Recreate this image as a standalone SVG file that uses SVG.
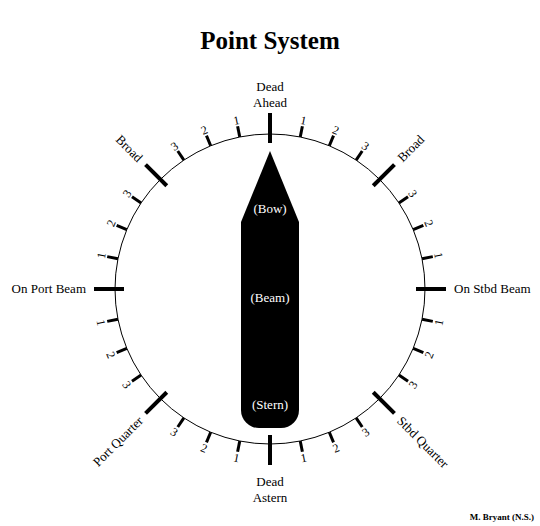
<svg xmlns="http://www.w3.org/2000/svg" width="540" height="526" viewBox="0 0 540 526">
<style>
  text { font-family: "Liberation Serif", "Times New Roman", serif; fill: #000; }
  .title { font-size: 25px; font-weight: bold; text-anchor: middle; }
  .lbl { font-size: 13px; }
  .num { font-size: 12px; text-anchor: middle; }
  .ship-lbl { font-size: 13px; fill: #fff; text-anchor: middle; }
  .credit { font-size: 9px; font-weight: bold; text-anchor: end; }
  .minor { stroke: #000; stroke-width: 3; }
  .major { stroke: #000; stroke-width: 4; }
</style>
<rect width="540" height="526" fill="#fff"/>
<g id="title"><text class="title" x="270" y="49">Point System</text></g>

<g id="compass">
  <circle cx="270" cy="289" r="155" fill="none" stroke="#000" stroke-width="1"/>
</g>

<g id="ship">
  <path d="M270,151 L299,222 L299,410 A18,18 0 0 1 281,428 L259,428 A18,18 0 0 1 241,410 L241,222 Z" fill="#000"/>
  <text class="ship-lbl" x="270" y="213">(Bow)</text>
  <text class="ship-lbl" x="270" y="302">(Beam)</text>
  <text class="ship-lbl" x="270" y="409">(Stern)</text>
</g>

<g id="connectors">
  <g id="major-ticks">
    <line class="major" x1="270" y1="143" x2="270" y2="113" transform="rotate(0 270 289)"/>
    <line class="major" x1="270" y1="143" x2="270" y2="113" transform="rotate(45 270 289)"/>
    <line class="major" x1="270" y1="143" x2="270" y2="113" transform="rotate(90 270 289)"/>
    <line class="major" x1="270" y1="143" x2="270" y2="113" transform="rotate(135 270 289)"/>
    <line class="major" x1="270" y1="143" x2="270" y2="113" transform="rotate(180 270 289)"/>
    <line class="major" x1="270" y1="143" x2="270" y2="113" transform="rotate(225 270 289)"/>
    <line class="major" x1="270" y1="143" x2="270" y2="113" transform="rotate(270 270 289)"/>
    <line class="major" x1="270" y1="143" x2="270" y2="113" transform="rotate(315 270 289)"/>
  </g>
  <g id="minor-ticks">
    <line class="minor" x1="270" y1="134" x2="270" y2="123" transform="rotate(11.25 270 289)"/>
    <line class="minor" x1="270" y1="134" x2="270" y2="123" transform="rotate(22.5 270 289)"/>
    <line class="minor" x1="270" y1="134" x2="270" y2="123" transform="rotate(33.75 270 289)"/>
    <line class="minor" x1="270" y1="134" x2="270" y2="123" transform="rotate(56.25 270 289)"/>
    <line class="minor" x1="270" y1="134" x2="270" y2="123" transform="rotate(67.5 270 289)"/>
    <line class="minor" x1="270" y1="134" x2="270" y2="123" transform="rotate(78.75 270 289)"/>
    <line class="minor" x1="270" y1="134" x2="270" y2="123" transform="rotate(101.25 270 289)"/>
    <line class="minor" x1="270" y1="134" x2="270" y2="123" transform="rotate(112.5 270 289)"/>
    <line class="minor" x1="270" y1="134" x2="270" y2="123" transform="rotate(123.75 270 289)"/>
    <line class="minor" x1="270" y1="134" x2="270" y2="123" transform="rotate(146.25 270 289)"/>
    <line class="minor" x1="270" y1="134" x2="270" y2="123" transform="rotate(157.5 270 289)"/>
    <line class="minor" x1="270" y1="134" x2="270" y2="123" transform="rotate(168.75 270 289)"/>
    <line class="minor" x1="270" y1="134" x2="270" y2="123" transform="rotate(191.25 270 289)"/>
    <line class="minor" x1="270" y1="134" x2="270" y2="123" transform="rotate(202.5 270 289)"/>
    <line class="minor" x1="270" y1="134" x2="270" y2="123" transform="rotate(213.75 270 289)"/>
    <line class="minor" x1="270" y1="134" x2="270" y2="123" transform="rotate(236.25 270 289)"/>
    <line class="minor" x1="270" y1="134" x2="270" y2="123" transform="rotate(247.5 270 289)"/>
    <line class="minor" x1="270" y1="134" x2="270" y2="123" transform="rotate(258.75 270 289)"/>
    <line class="minor" x1="270" y1="134" x2="270" y2="123" transform="rotate(281.25 270 289)"/>
    <line class="minor" x1="270" y1="134" x2="270" y2="123" transform="rotate(292.5 270 289)"/>
    <line class="minor" x1="270" y1="134" x2="270" y2="123" transform="rotate(303.75 270 289)"/>
    <line class="minor" x1="270" y1="134" x2="270" y2="123" transform="rotate(326.25 270 289)"/>
    <line class="minor" x1="270" y1="134" x2="270" y2="123" transform="rotate(337.5 270 289)"/>
    <line class="minor" x1="270" y1="134" x2="270" y2="123" transform="rotate(348.75 270 289)"/>
  </g>
</g>

<g id="point-numbers">
  <text class="num" x="270" y="117" dy="0.35em" transform="rotate(11.25 270 289)">1</text>
  <text class="num" x="270" y="117" dy="0.35em" transform="rotate(22.5 270 289)">2</text>
  <text class="num" x="270" y="117" dy="0.35em" transform="rotate(33.75 270 289)">3</text>
  <text class="num" x="270" y="117" dy="0.35em" transform="rotate(56.25 270 289)">3</text>
  <text class="num" x="270" y="117" dy="0.35em" transform="rotate(67.5 270 289)">2</text>
  <text class="num" x="270" y="117" dy="0.35em" transform="rotate(78.75 270 289)">1</text>
  <text class="num" x="270" y="117" dy="0.35em" transform="rotate(101.25 270 289) rotate(180 270 117)">1</text>
  <text class="num" x="270" y="117" dy="0.35em" transform="rotate(112.5 270 289) rotate(180 270 117)">2</text>
  <text class="num" x="270" y="117" dy="0.35em" transform="rotate(123.75 270 289) rotate(180 270 117)">3</text>
  <text class="num" x="270" y="117" dy="0.35em" transform="rotate(146.25 270 289) rotate(180 270 117)">3</text>
  <text class="num" x="270" y="117" dy="0.35em" transform="rotate(157.5 270 289) rotate(180 270 117)">2</text>
  <text class="num" x="270" y="117" dy="0.35em" transform="rotate(168.75 270 289) rotate(180 270 117)">1</text>
  <text class="num" x="270" y="117" dy="0.35em" transform="rotate(191.25 270 289) rotate(180 270 117)">1</text>
  <text class="num" x="270" y="117" dy="0.35em" transform="rotate(202.5 270 289) rotate(180 270 117)">2</text>
  <text class="num" x="270" y="117" dy="0.35em" transform="rotate(213.75 270 289) rotate(180 270 117)">3</text>
  <text class="num" x="270" y="117" dy="0.35em" transform="rotate(236.25 270 289) rotate(180 270 117)">3</text>
  <text class="num" x="270" y="117" dy="0.35em" transform="rotate(247.5 270 289) rotate(180 270 117)">2</text>
  <text class="num" x="270" y="117" dy="0.35em" transform="rotate(258.75 270 289) rotate(180 270 117)">1</text>
  <text class="num" x="270" y="117" dy="0.35em" transform="rotate(281.25 270 289)">1</text>
  <text class="num" x="270" y="117" dy="0.35em" transform="rotate(292.5 270 289)">2</text>
  <text class="num" x="270" y="117" dy="0.35em" transform="rotate(303.75 270 289)">3</text>
  <text class="num" x="270" y="117" dy="0.35em" transform="rotate(326.25 270 289)">3</text>
  <text class="num" x="270" y="117" dy="0.35em" transform="rotate(337.5 270 289)">2</text>
  <text class="num" x="270" y="117" dy="0.35em" transform="rotate(348.75 270 289)">1</text>
</g>

<g id="dead-ahead"><text class="lbl" text-anchor="middle" x="270" y="91">Dead</text><text class="lbl" text-anchor="middle" x="270" y="107">Ahead</text></g>
<g id="broad-stbd"><text class="lbl" text-anchor="start" dy="0.35em" transform="translate(399.4 159.6) rotate(-45)">Broad</text></g>
<g id="on-stbd-beam"><text class="lbl" text-anchor="start" x="454" y="293">On Stbd Beam</text></g>
<g id="stbd-quarter"><text class="lbl" text-anchor="start" dy="0.35em" transform="translate(399.4 418.4) rotate(45)">Stbd Quarter</text></g>
<g id="dead-astern"><text class="lbl" text-anchor="middle" x="270" y="486">Dead</text><text class="lbl" text-anchor="middle" x="270" y="502">Astern</text></g>
<g id="port-quarter"><text class="lbl" text-anchor="end" dy="0.35em" transform="translate(140.6 418.4) rotate(-45)">Port Quarter</text></g>
<g id="on-port-beam"><text class="lbl" text-anchor="end" x="86" y="293">On Port Beam</text></g>
<g id="broad-port"><text class="lbl" text-anchor="end" dy="0.35em" transform="translate(140.6 159.6) rotate(45)">Broad</text></g>

<g id="credit"><text class="credit" x="534" y="520">M. Bryant (N.S.)</text></g>
</svg>
